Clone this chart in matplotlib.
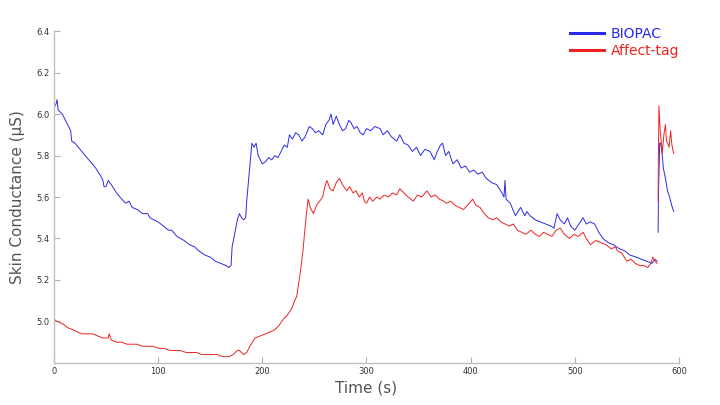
import numpy as np
import matplotlib
matplotlib.use("Agg")
import matplotlib.pyplot as plt

nan = np.nan

biopac_t = [0, 2, 3, 4, 8, 12, 16, 17, 20, 25, 30, 35, 40, 45, 47, 48, 50, 52, 55, 60,
            65, 69, 72, 75, 80, 85, 90, 92, 100, 105, 110, 113, 118, 125, 130, 135, 139,
            145, 150, 155, 160, 165, 168, 170, 171, 173, 176, 178, 180, 182, 184, 185,
            187, 189, 190, 192, 194, 196, 198, 200, 203, 206, 209, 212, 215, 218, 221,
            224, 226, 229, 232, 235, 238, 241, 245, 248, 251, 254, 258, 261, 264, 266,
            268, 271, 274, 277, 280, 283, 285, 288, 291, 294, 297, 300, 304, 308, 313,
            316, 320, 324, 329, 332, 336, 340, 344, 348, 352, 356, 361, 365, 368, 371,
            373, 376, 379, 383, 387, 391, 395, 399, 403, 407, 411, 415, 420, 425, 430,
            432, 433, 434, 438, 443, 448, 452, 454, 457, 462, 467, 472, 477, 480, 483,
            486, 490, 493, 496, 500, 504, 508, 511, 515, 519, 523, 527, 532, 537, 543,
            548, 553, 559, 564, 569, 574, 577, 579, 579.5, 580, 580.3, 581.5, 582.5,
            584, 585, 587, 589, 591, 593, 595]
biopac_v = [6.03, 6.05, 6.07, 6.02, 6.00, 5.96, 5.92, 5.87, 5.86, 5.83, 5.80, 5.77, 5.74,
            5.70, 5.68, 5.65, 5.65, 5.68, 5.66, 5.62, 5.59, 5.57, 5.58, 5.55, 5.54, 5.52,
            5.52, 5.50, 5.48, 5.46, 5.44, 5.44, 5.41, 5.39, 5.37, 5.36, 5.34, 5.32, 5.31,
            5.29, 5.28, 5.27, 5.26, 5.27, 5.36, 5.41, 5.49, 5.52, 5.50, 5.49, 5.50, 5.58,
            5.69, 5.80, 5.86, 5.84, 5.86, 5.80, 5.78, 5.76, 5.77, 5.79, 5.78, 5.80, 5.79,
            5.82, 5.85, 5.84, 5.90, 5.88, 5.91, 5.90, 5.87, 5.89, 5.94, 5.93, 5.91, 5.92,
            5.90, 5.95, 5.97, 6.00, 5.95, 5.99, 5.95, 5.92, 5.93, 5.97, 5.96, 5.93, 5.94,
            5.91, 5.90, 5.93, 5.92, 5.94, 5.93, 5.90, 5.92, 5.89, 5.87, 5.90, 5.86, 5.85,
            5.82, 5.84, 5.80, 5.83, 5.82, 5.78, 5.82, 5.85, 5.86, 5.80, 5.82, 5.76, 5.78,
            5.74, 5.75, 5.72, 5.73, 5.71, 5.72, 5.69, 5.67, 5.66, 5.62, 5.60, 5.68, 5.59,
            5.57, 5.51, 5.55, 5.51, 5.53, 5.51, 5.49, 5.48, 5.47, 5.46, 5.45, 5.52, 5.49,
            5.47, 5.50, 5.46, 5.44, 5.47, 5.50, 5.47, 5.48, 5.47, 5.43, 5.40, 5.38, 5.37,
            5.35, 5.34, 5.32, 5.31, 5.30, 5.29, 5.28, 5.30, 5.29, nan, 5.43, 5.60, 5.86,
            5.86, 5.80, 5.74, 5.69, 5.63, 5.60, 5.56, 5.53]

affect_t = [0, 3, 8, 13, 18, 22, 27, 32, 37, 42, 47, 52, 53, 55, 60, 65, 70, 75, 80, 85,
            90, 95, 101, 106, 111, 116, 121, 127, 132, 137, 142, 147, 152, 157, 162, 168,
            172, 176, 178, 182, 185, 188, 193, 198, 203, 208, 212, 216, 220, 224, 228, 231,
            233, 236, 239, 241, 243, 244, 246, 249, 252, 255, 258, 260, 262, 265, 268, 271,
            274, 277, 281, 284, 287, 290, 293, 296, 298, 300, 303, 306, 310, 313, 317, 321,
            325, 329, 332, 336, 340, 345, 349, 353, 358, 362, 366, 370, 374, 377, 381, 385,
            389, 393, 397, 402, 405, 409, 413, 417, 421, 425, 429, 433, 437, 441, 445, 449,
            453, 458, 462, 466, 470, 474, 478, 482, 486, 490, 495, 499, 503, 508, 511, 515,
            520, 525, 530, 535, 539, 541, 545, 550, 554, 558, 562, 566, 570, 573, 575, 577,
            579, 579.5, 580, 580.3, 580.8, 582, 584, 585.5, 587, 588, 589, 590.5, 592, 593,
            594, 595]
affect_v = [5.01, 5.00, 4.99, 4.97, 4.96, 4.95, 4.94, 4.94, 4.94, 4.93, 4.92, 4.92, 4.94,
            4.91, 4.90, 4.90, 4.89, 4.89, 4.89, 4.88, 4.88, 4.88, 4.87, 4.87, 4.86, 4.86,
            4.86, 4.85, 4.85, 4.85, 4.84, 4.84, 4.84, 4.84, 4.83, 4.83, 4.84, 4.86, 4.86,
            4.84, 4.85, 4.88, 4.92, 4.93, 4.94, 4.95, 4.96, 4.98, 5.01, 5.03, 5.06, 5.10,
            5.12, 5.22, 5.34, 5.45, 5.55, 5.59, 5.55, 5.52, 5.56, 5.58, 5.60, 5.65, 5.68,
            5.64, 5.63, 5.67, 5.69, 5.66, 5.63, 5.65, 5.62, 5.63, 5.60, 5.62, 5.58, 5.57,
            5.60, 5.58, 5.60, 5.59, 5.61, 5.60, 5.62, 5.61, 5.64, 5.62, 5.60, 5.58, 5.61,
            5.60, 5.63, 5.60, 5.61, 5.59, 5.58, 5.57, 5.58, 5.56, 5.55, 5.54, 5.56, 5.59,
            5.56, 5.55, 5.52, 5.50, 5.49, 5.50, 5.48, 5.47, 5.46, 5.47, 5.44, 5.43, 5.42,
            5.44, 5.42, 5.41, 5.43, 5.42, 5.41, 5.44, 5.45, 5.42, 5.40, 5.42, 5.41, 5.43,
            5.40, 5.37, 5.39, 5.38, 5.37, 5.35, 5.36, 5.34, 5.33, 5.29, 5.30, 5.28, 5.27,
            5.27, 5.26, 5.28, 5.31, 5.29, 5.28, nan, 5.58, 5.81, 6.04, 5.92, 5.81, 5.90,
            5.95, 5.87, 5.86, 5.84, 5.92, 5.86, 5.83, 5.81]

x_ticks = [0, 100, 200, 300, 400, 500, 600]
y_ticks = [5.0, 5.2, 5.4, 5.6, 5.8, 6.0, 6.2, 6.4]

fig = plt.figure(figsize=(7.2, 4.05), dpi=100)
ax = fig.add_axes([0.075, 0.104, 0.868, 0.819])

ax.plot(biopac_t, biopac_v, color="#2a2ae8", lw=0.7, label="BIOPAC")
ax.plot(affect_t, affect_v, color="#ee2222", lw=0.7, label="Affect-tag")

ax.set_xlim(0, 600)
ax.set_ylim(4.8, 6.4)
ax.set_xticks(x_ticks)
ax.set_xticklabels([str(v) for v in x_ticks])
ax.set_yticks(y_ticks)
ax.set_yticklabels([f"{v:.1f}" for v in y_ticks])

for s in ["top", "right"]:
    ax.spines[s].set_visible(False)
for s in ["left", "bottom"]:
    ax.spines[s].set_color("#c0c0c0")
    ax.spines[s].set_linewidth(1.0)

ax.tick_params(axis="both", direction="in", length=4, width=0.8, color="#b0b0b0",
               labelsize=6, labelcolor="#333333", pad=3)

ax.set_xlabel("Time (s)", fontsize=11, color="#555555", labelpad=3)
ax.set_ylabel("Skin Conductance (µS)", fontsize=11, color="#555555", labelpad=8)

leg = ax.legend(loc="upper right", bbox_to_anchor=(1.02, 1.05), frameon=False,
                fontsize=10, handlelength=2.4, handletextpad=0.5, labelspacing=0.2)
for line, text in zip(leg.get_lines(), leg.get_texts()):
    line.set_linewidth(2.2)
    text.set_color(line.get_color())

fig.savefig("out.png", dpi=100)
